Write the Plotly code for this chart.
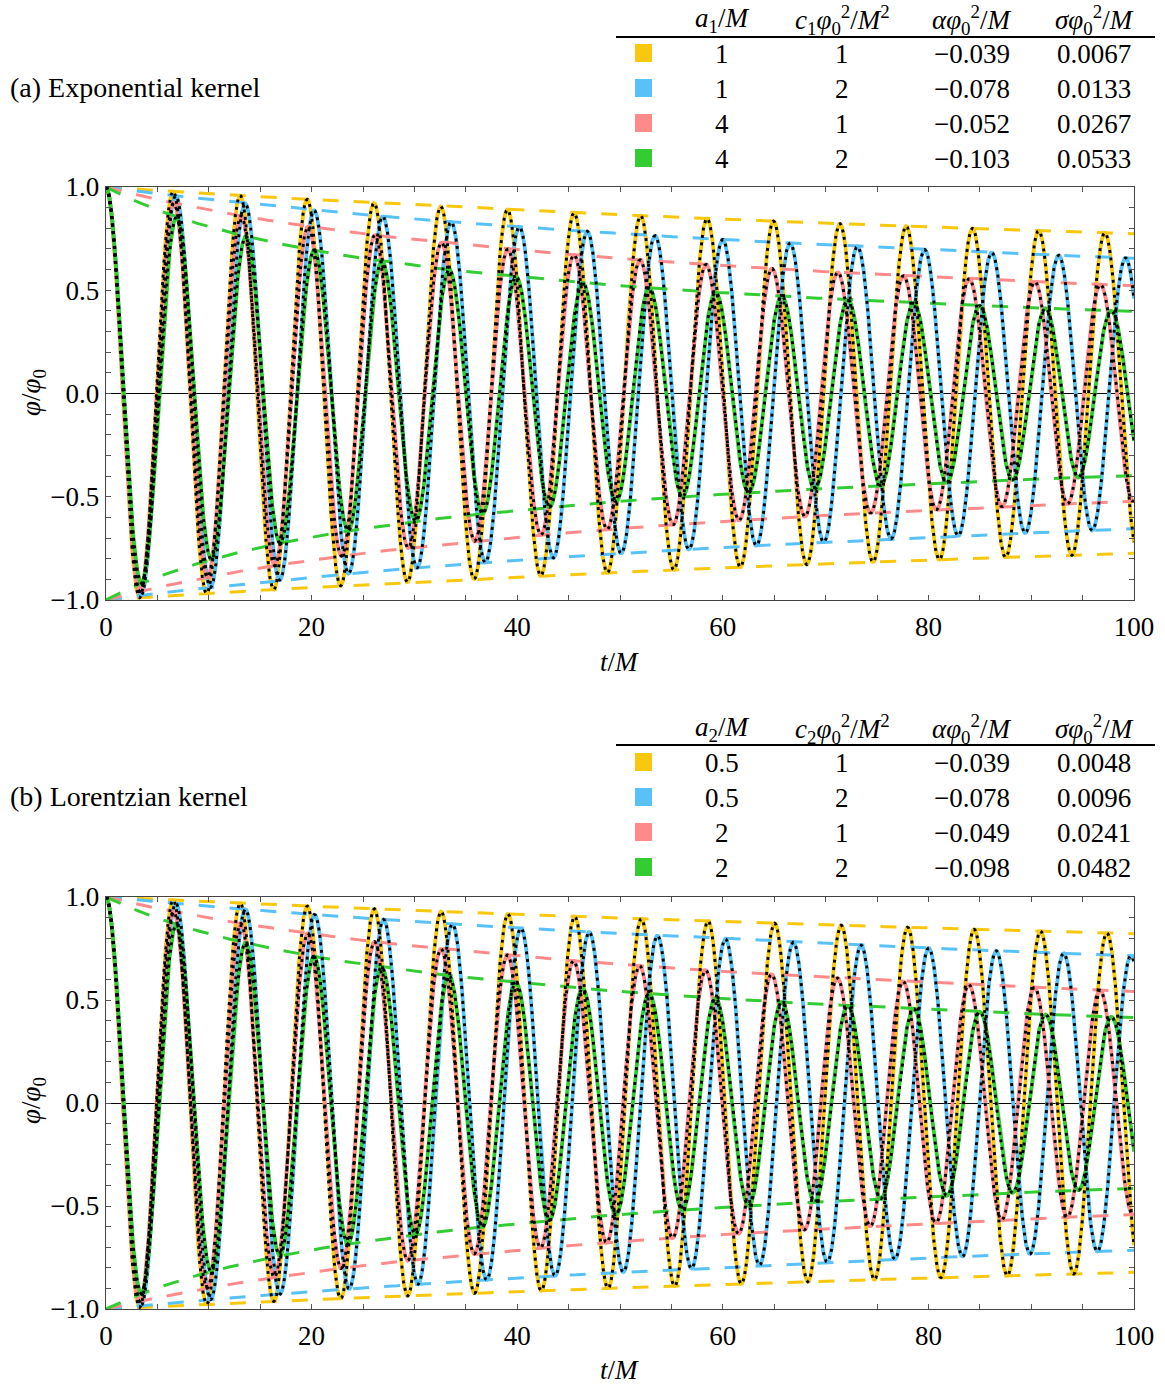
import numpy as np
import plotly.graph_objects as go

colors = ["#F8C80F", "#58C2F8", "#FF8A8A", "#33CC33"]

a1_vals = ["1", "1", "4", "4"]
c1_vals = ["1", "2", "1", "2"]
alpha_a = [-0.039, -0.078, -0.052, -0.103]
sigma_a = [0.0067, 0.0133, 0.0267, 0.0533]

a2_vals = ["0.5", "0.5", "2", "2"]
c2_vals = ["1", "2", "1", "2"]
alpha_b = [-0.039, -0.078, -0.049, -0.098]
sigma_b = [0.0048, 0.0096, 0.0241, 0.0482]

x_ticks = [0, 20, 40, 60, 80, 100]
y_ticks = [-1.0, -0.5, 0.0, 0.5, 1.0]
y_ticktext = ["\u22121.0", "\u22120.5", "0.0", "0.5", "1.0"]

t = np.linspace(0, 100, 5001)

W, H = 1165, 1389
FONT = "Liberation Serif, DejaVu Serif, serif"


def px(x):
    return x / W


def py(y):
    return 1 - y / H


def model(alpha, sigma):
    s = 1 + sigma * t
    amp = s ** -0.5
    phase = t + (alpha / sigma) * np.log(s)
    return amp, amp * np.cos(phase)


fig = go.Figure()

panels = [
    dict(xa="x", ya="y", alpha=alpha_a, sigma=sigma_a),
    dict(xa="x2", ya="y2", alpha=alpha_b, sigma=sigma_b),
]

for p in panels:
    for i in range(4):
        amp, phi = model(p["alpha"][i], p["sigma"][i])
        fig.add_trace(go.Scatter(x=t, y=phi, mode="lines", xaxis=p["xa"], yaxis=p["ya"],
                                 line=dict(color=colors[i], width=3.8), showlegend=False,
                                 hoverinfo="skip"))
    for i in range(4):
        amp, phi = model(p["alpha"][i], p["sigma"][i])
        for sgn in (1, -1):
            fig.add_trace(go.Scatter(x=t, y=sgn * amp, mode="lines", xaxis=p["xa"], yaxis=p["ya"],
                                     line=dict(color=colors[i], width=3, dash="16px,15px"),
                                     showlegend=False, hoverinfo="skip"))
    for i in range(4):
        amp, phi = model(p["alpha"][i], p["sigma"][i])
        fig.add_trace(go.Scatter(x=t, y=phi, mode="lines", xaxis=p["xa"], yaxis=p["ya"],
                                 line=dict(color="black", width=2.9, dash="2.9px,4.6px"),
                                 showlegend=False, hoverinfo="skip"))

axis_common = dict(showline=True, linecolor="#444444", linewidth=1.3, mirror="allticks",
                   ticks="inside", ticklen=5, tickcolor="#555555", tickwidth=1,
                   showgrid=False, automargin=False,
                   tickfont=dict(family=FONT, size=27, color="black"))

xdom = [px(106), px(1134)]
dom_a = [py(600), py(187)]
dom_b = [py(1309), py(897)]

xminor = dict(tickmode="linear", tick0=0, dtick=5, ticks="inside", ticklen=5, tickcolor="#555555")
yminor = dict(tickmode="linear", tick0=0, dtick=0.1, ticks="inside", ticklen=5, tickcolor="#555555")

fig.update_layout(
    width=W, height=H,
    margin=dict(l=0, r=0, t=0, b=0),
    paper_bgcolor="white", plot_bgcolor="white",
    showlegend=False,
    xaxis=dict(domain=xdom, anchor="y", range=[0, 100], tickvals=x_ticks, zeroline=False,
               minor=xminor, ticklabelstandoff=2, **axis_common),
    yaxis=dict(domain=dom_a, anchor="x", range=[-1, 1], tickvals=y_ticks, ticktext=y_ticktext,
               zeroline=True, zerolinecolor="black", zerolinewidth=1,
               minor=yminor, **axis_common),
    xaxis2=dict(domain=xdom, anchor="y2", range=[0, 100], tickvals=x_ticks, zeroline=False,
                minor=xminor, ticklabelstandoff=2, **axis_common),
    yaxis2=dict(domain=dom_b, anchor="x2", range=[-1, 1], tickvals=y_ticks, ticktext=y_ticktext,
                zeroline=True, zerolinecolor="black", zerolinewidth=1,
                minor=yminor, **axis_common),
)

# ---------------- tables and titles ----------------
col_x = [722, 842, 972, 1094]
ann = []
shapes = []

tables = [
    dict(label="(a) Exponential kernel", label_y=87, head_y=20, line_y=37, row0=53,
         xt_y=662, yt_y=393,
         heads=["<i>a</i><sub>1</sub>/<i>M</i>",
                "<i>c</i><sub>1</sub><i>φ</i><sub>0</sub><sup>2</sup>/<i>M</i><sup>2</sup>",
                "<i>αφ</i><sub>0</sub><sup>2</sup>/<i>M</i>",
                "<i>σφ</i><sub>0</sub><sup>2</sup>/<i>M</i>"],
         cols=[a1_vals, c1_vals, alpha_a, sigma_a]),
    dict(label="(b) Lorentzian kernel", label_y=796, head_y=729, line_y=745, row0=762,
         xt_y=1370, yt_y=1101,
         heads=["<i>a</i><sub>2</sub>/<i>M</i>",
                "<i>c</i><sub>2</sub><i>φ</i><sub>0</sub><sup>2</sup>/<i>M</i><sup>2</sup>",
                "<i>αφ</i><sub>0</sub><sup>2</sup>/<i>M</i>",
                "<i>σφ</i><sub>0</sub><sup>2</sup>/<i>M</i>"],
         cols=[a2_vals, c2_vals, alpha_b, sigma_b]),
]


def fmt(v):
    if isinstance(v, str):
        return v
    return repr(v).replace("-", "\u2212")


TF = dict(family=FONT, size=27, color="black")
LF = dict(family=FONT, size=28, color="black")

for tb in tables:
    ann.append(dict(x=px(8), y=py(tb["label_y"]), xref="paper", yref="paper", xanchor="left",
                    yanchor="middle", text=tb["label"], showarrow=False, font=LF))
    ann.append(dict(x=px(619), y=py(tb["xt_y"]), xref="paper", yref="paper", xanchor="center",
                    yanchor="middle", text="<i>t</i>/<i>M</i>", showarrow=False, font=TF))
    ann.append(dict(x=px(33), y=py(tb["yt_y"]), xref="paper", yref="paper", xanchor="center",
                    yanchor="middle", text="<i>φ</i>/<i>φ</i><sub>0</sub>", textangle=-90,
                    showarrow=False, font=TF))
    for j, h in enumerate(tb["heads"]):
        ann.append(dict(x=px(col_x[j]), y=py(tb["head_y"]), xref="paper", yref="paper",
                        xanchor="center", yanchor="middle", text=h, showarrow=False, font=TF))
    shapes.append(dict(type="line", xref="paper", yref="paper", x0=px(616), x1=px(1155),
                       y0=py(tb["line_y"]), y1=py(tb["line_y"]),
                       line=dict(color="black", width=2.2)))
    for i in range(4):
        ry = tb["row0"] + 35 * i
        shapes.append(dict(type="rect", xref="paper", yref="paper", x0=px(635), x1=px(652),
                           y0=py(ry - 9), y1=py(ry + 9), fillcolor=colors[i],
                           line=dict(width=0)))
        for j in range(4):
            ann.append(dict(x=px(col_x[j]), y=py(ry + 1), xref="paper", yref="paper",
                            xanchor="center", yanchor="middle", text=fmt(tb["cols"][j][i]),
                            showarrow=False, font=TF))

fig.update_layout(annotations=ann, shapes=shapes)

# remove the default 8px page margin so the figure fills the window exactly
fig.write_html("out.html",
               config={"displayModeBar": False, "staticPlot": True},
               post_script="document.body.style.margin='0';document.body.style.overflow='hidden';")
